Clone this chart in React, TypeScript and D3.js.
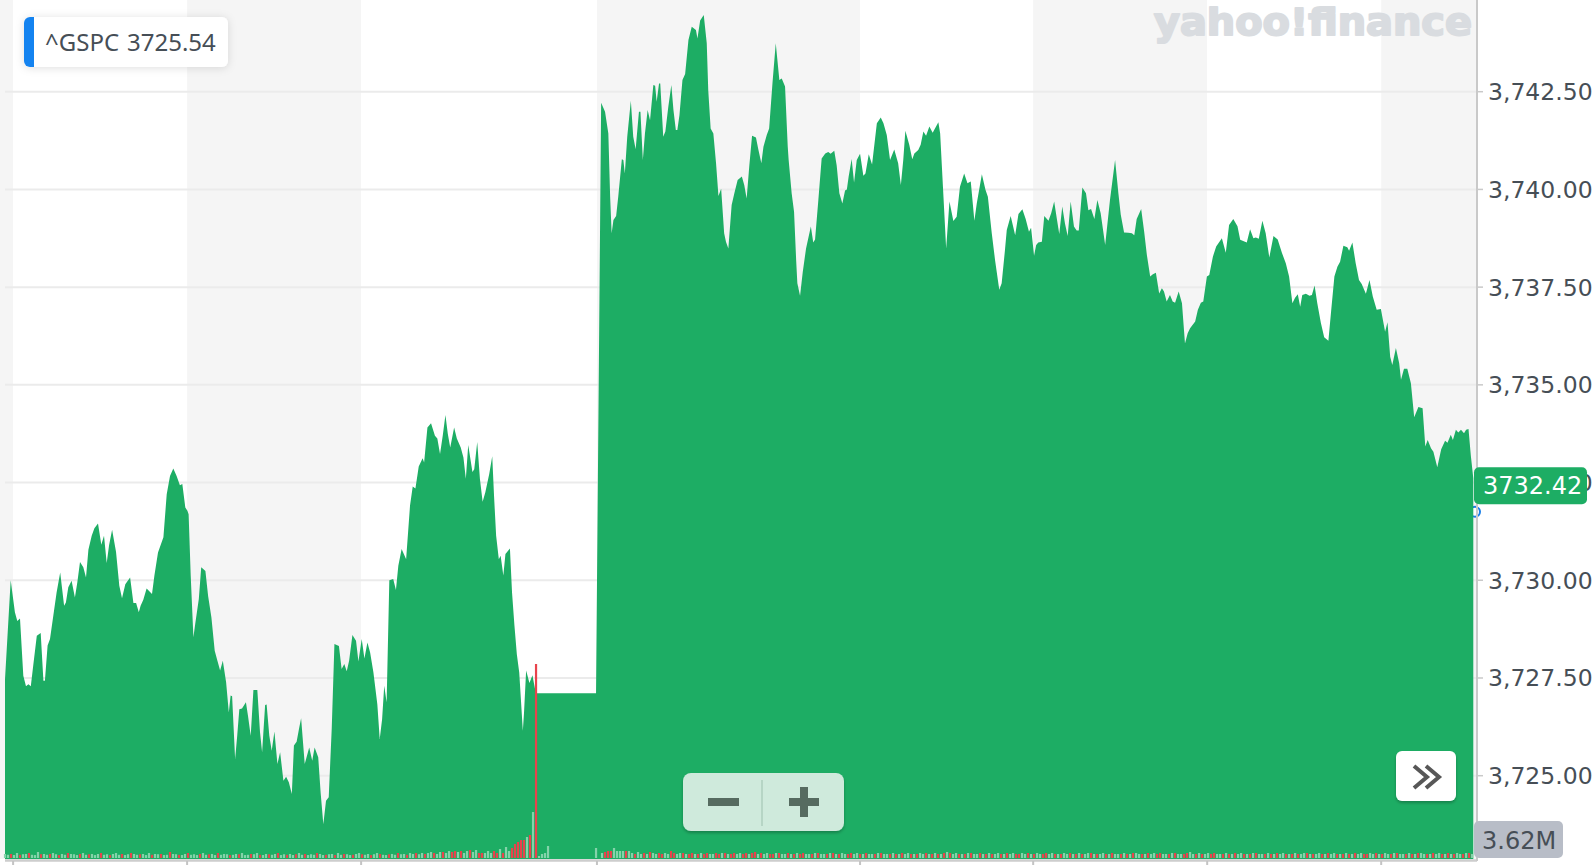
import React from 'react';
import * as d3 from 'd3';

// [time index, price]
const pricePoints: [number, number][] = [
  [0, 3727.47], [1.9, 3730.0], [3.3, 3729.18], [4.1, 3728.96], [5.0, 3729.02], [6.1, 3727.56], [7.0, 3727.29], [7.8, 3727.34],
  [8.6, 3727.29], [9.4, 3727.81], [10.6, 3728.58], [11.9, 3728.65], [12.8, 3727.43], [13.3, 3727.43], [14.2, 3728.33], [15.0, 3728.5],
  [16.1, 3729.09], [17.2, 3729.69], [18.4, 3730.2], [19.7, 3729.35], [20.3, 3729.43], [21.1, 3729.82], [22.2, 3729.99], [23.3, 3729.56],
  [24.1, 3729.94], [25.0, 3730.47], [26.1, 3730.33], [27.0, 3730.07], [27.8, 3730.78], [28.9, 3731.14], [29.8, 3731.33], [31.0, 3731.45],
  [32.1, 3730.91], [33.0, 3731.14], [33.9, 3730.44], [34.7, 3730.9], [35.7, 3731.29], [37.0, 3730.73], [38.1, 3729.86], [39.0, 3729.54],
  [40.1, 3729.9], [41.7, 3730.07], [42.8, 3729.42], [43.7, 3729.42], [44.6, 3729.18], [45.2, 3729.35], [46.1, 3729.5], [47.2, 3729.79],
  [49.0, 3729.65], [49.8, 3730.12], [51.0, 3730.71], [52.8, 3731.1], [53.9, 3732.2], [55.0, 3732.67], [56.1, 3732.86], [57.2, 3732.67],
  [58.3, 3732.43], [59.1, 3732.46], [60.1, 3731.86], [60.8, 3731.78], [61.2, 3731.69], [61.9, 3730.12], [62.8, 3728.54], [63.4, 3728.88],
  [64.6, 3729.52], [65.4, 3730.33], [66.8, 3730.24], [67.7, 3729.6], [68.8, 3729.05], [69.9, 3728.2], [70.8, 3727.94], [71.7, 3727.69],
  [72.6, 3727.94], [73.7, 3727.39], [74.6, 3726.62], [75.2, 3727.05], [75.7, 3727.03], [76.7, 3725.43], [77.4, 3726.02], [78.1, 3726.7],
  [79.0, 3726.72], [80.3, 3726.88], [81.0, 3726.53], [81.9, 3726.02], [82.8, 3727.19], [84.1, 3727.19], [85.0, 3726.11], [85.7, 3725.6],
  [86.7, 3726.81], [87.2, 3726.82], [88.1, 3726.02], [88.9, 3725.64], [89.8, 3726.13], [90.8, 3725.3], [91.7, 3725.6], [92.8, 3724.87],
  [93.7, 3724.97], [94.6, 3724.83], [95.6, 3724.53], [96.3, 3725.77], [97.2, 3725.87], [98.0, 3726.2], [98.7, 3726.47], [99.9, 3725.3],
  [101.4, 3725.72], [102.4, 3725.38], [103.2, 3725.72], [104.4, 3725.47], [105.2, 3724.57], [106.1, 3723.76], [107.0, 3724.36], [107.9, 3724.45],
  [108.9, 3726.2], [109.8, 3728.37], [111.3, 3728.32], [112.2, 3727.73], [113.1, 3727.86], [113.9, 3727.67], [114.7, 3727.94], [115.8, 3728.6],
  [117.0, 3728.45], [117.8, 3727.92], [118.9, 3728.5], [119.8, 3728.0], [120.8, 3728.41], [121.7, 3728.15], [122.8, 3727.64], [124.1, 3726.83],
  [124.9, 3725.94], [125.7, 3726.45], [126.4, 3727.3], [127.2, 3726.88], [128.1, 3730.0], [129.4, 3730.03], [130.3, 3729.75], [131.1, 3730.37],
  [132.2, 3730.8], [133.7, 3730.54], [135.0, 3731.91], [135.9, 3732.4], [136.8, 3732.35], [137.9, 3732.91], [139.2, 3733.12], [139.7, 3733.01],
  [140.8, 3733.91], [142.0, 3734.02], [143.3, 3733.7], [144.1, 3733.63], [145.0, 3733.23], [145.9, 3733.7], [146.8, 3734.23], [147.6, 3733.74],
  [148.4, 3733.4], [149.7, 3733.91], [150.6, 3733.63], [151.9, 3733.4], [152.8, 3733.14], [153.6, 3732.6], [154.4, 3733.46], [155.8, 3732.77],
  [156.4, 3732.84], [157.4, 3733.54], [158.3, 3732.59], [159.2, 3732.01], [160.1, 3732.25], [161.4, 3732.72], [162.4, 3733.17], [163.0, 3732.16],
  [163.7, 3731.14], [164.6, 3730.54], [165.2, 3730.63], [166.1, 3730.12], [166.8, 3730.67], [168.3, 3730.81], [169.0, 3729.69], [169.8, 3728.84],
  [170.6, 3728.11], [171.4, 3727.64], [172.6, 3726.15], [173.0, 3726.62], [173.7, 3727.69], [174.8, 3727.37], [175.8, 3727.57], [176.8, 3727.16],
  [177.2, 3727.11], [197.0, 3727.11], [198.7, 3742.22], [200.0, 3741.99], [201.1, 3741.43], [201.7, 3739.81], [202.2, 3738.88], [202.8, 3739.22],
  [203.7, 3739.32], [204.4, 3739.81], [205.6, 3740.77], [206.1, 3740.75], [206.6, 3740.41], [207.4, 3741.35], [208.6, 3742.27], [209.4, 3741.35],
  [210.2, 3741.03], [211.3, 3741.99], [211.8, 3741.99], [212.6, 3740.75], [213.3, 3741.43], [214.2, 3742.03], [215.0, 3741.77], [216.1, 3742.67],
  [216.7, 3742.65], [217.2, 3742.24], [218.0, 3742.71], [218.4, 3742.71], [219.4, 3741.35], [220.1, 3741.48], [221.1, 3742.12], [222.1, 3742.67],
  [222.8, 3742.03], [223.6, 3741.52], [224.1, 3741.52], [224.8, 3741.9], [225.8, 3742.8], [226.7, 3742.95], [227.8, 3743.82], [228.9, 3744.16],
  [230.3, 3744.08], [230.8, 3743.86], [231.7, 3744.32], [232.9, 3744.46], [233.9, 3743.74], [234.4, 3742.54], [235.2, 3741.56], [236.1, 3741.43],
  [237.0, 3740.67], [237.8, 3739.83], [238.7, 3740.02], [239.7, 3738.88], [240.3, 3738.66], [241.1, 3738.49], [242.2, 3739.6], [243.1, 3739.9],
  [244.2, 3740.24], [245.6, 3740.33], [246.4, 3740.11], [247.2, 3739.77], [248.1, 3740.62], [249.0, 3741.37], [250.3, 3741.33], [251.1, 3741.02],
  [252.1, 3740.67], [252.8, 3741.09], [253.9, 3741.39], [254.7, 3741.56], [255.8, 3742.71], [256.9, 3743.74], [258.1, 3742.8], [258.9, 3742.84],
  [260.0, 3742.63], [260.9, 3741.09], [261.2, 3740.75], [262.2, 3739.9], [263.0, 3739.43], [263.7, 3738.19], [264.1, 3737.6], [265.0, 3737.28],
  [265.9, 3737.89], [267.0, 3738.49], [268.6, 3739.05], [269.4, 3738.64], [270.0, 3738.72], [271.1, 3739.73], [272.2, 3740.79], [273.4, 3740.92],
  [274.4, 3740.96], [275.2, 3740.91], [276.4, 3740.99], [277.2, 3740.62], [278.1, 3739.9], [279.1, 3739.64], [280.0, 3739.97], [280.6, 3740.0],
  [281.2, 3740.33], [282.2, 3740.78], [283.0, 3740.18], [283.9, 3740.75], [285.0, 3740.91], [286.1, 3740.35], [286.8, 3740.41], [287.9, 3740.9],
  [289.0, 3740.64], [290.6, 3741.69], [291.9, 3741.84], [292.8, 3741.69], [293.9, 3741.39], [295.0, 3740.75], [296.4, 3741.02], [297.7, 3740.67],
  [298.6, 3740.11], [299.4, 3740.75], [300.1, 3741.5], [301.4, 3741.14], [302.4, 3740.77], [303.1, 3740.92], [304.4, 3741.01], [305.2, 3741.14],
  [306.1, 3741.48], [307.0, 3741.37], [308.1, 3741.61], [309.2, 3741.45], [311.1, 3741.72], [311.7, 3741.43], [312.8, 3739.81], [313.7, 3738.49],
  [314.8, 3739.69], [316.1, 3739.19], [317.2, 3739.3], [318.3, 3740.07], [319.7, 3740.41], [320.8, 3740.16], [321.9, 3740.2], [323.1, 3739.2],
  [323.9, 3739.64], [325.6, 3740.39], [326.8, 3739.99], [327.6, 3739.81], [328.9, 3738.88], [330.0, 3738.19], [331.4, 3737.43], [332.2, 3737.6],
  [333.3, 3738.45], [333.9, 3738.96], [335.2, 3739.32], [336.7, 3738.83], [337.8, 3739.37], [339.1, 3739.49], [340.2, 3739.24], [341.3, 3738.92],
  [342.0, 3739.02], [343.0, 3738.3], [343.7, 3738.58], [344.4, 3738.64], [345.6, 3738.66], [346.4, 3739.32], [347.8, 3739.2], [348.7, 3739.39],
  [349.7, 3739.69], [350.6, 3739.24], [351.4, 3738.86], [352.4, 3739.56], [353.3, 3739.13], [354.2, 3738.81], [355.2, 3739.69], [356.3, 3739.05],
  [357.2, 3738.95], [357.9, 3738.95], [359.1, 3740.05], [360.3, 3739.9], [361.1, 3739.47], [362.0, 3739.5], [363.1, 3739.24], [364.1, 3739.73],
  [365.2, 3739.39], [366.7, 3738.58], [368.3, 3739.73], [370.0, 3740.75], [371.1, 3739.9], [371.9, 3739.35], [373.0, 3738.9], [374.4, 3738.89],
  [375.6, 3738.88], [376.4, 3738.83], [377.2, 3739.24], [378.7, 3739.5], [379.7, 3738.92], [380.6, 3738.32], [381.7, 3737.77], [382.6, 3737.83],
  [383.6, 3737.87], [384.7, 3737.34], [385.6, 3737.47], [386.3, 3737.39], [387.2, 3737.13], [388.3, 3737.3], [389.2, 3737.13], [390.0, 3737.1],
  [391.2, 3737.39], [392.3, 3737.09], [393.3, 3736.06], [394.2, 3736.32], [395.0, 3736.45], [396.7, 3736.62], [397.6, 3736.92], [398.6, 3737.1],
  [399.4, 3737.13], [400.6, 3737.77], [401.4, 3737.81], [402.6, 3738.28], [403.7, 3738.54], [405.6, 3738.75], [406.9, 3738.38], [408.0, 3739.09],
  [409.4, 3739.24], [410.8, 3739.06], [411.7, 3738.71], [413.3, 3738.66], [413.9, 3738.64], [415.0, 3738.98], [416.1, 3738.75], [416.9, 3738.77],
  [417.9, 3738.74], [419.1, 3739.2], [420.2, 3738.88], [421.4, 3738.26], [422.8, 3738.81], [424.2, 3738.72], [425.6, 3738.38], [426.9, 3738.11],
  [428.0, 3737.77], [429.1, 3737.09], [430.0, 3737.23], [430.9, 3737.32], [431.7, 3737.0], [432.4, 3737.3], [433.6, 3737.33], [434.8, 3737.28],
  [435.6, 3737.3], [436.5, 3737.54], [437.4, 3737.09], [438.6, 3736.58], [439.7, 3736.22], [441.1, 3736.13], [442.1, 3736.96], [443.1, 3737.77],
  [444.1, 3738.02], [445.0, 3738.15], [446.1, 3738.56], [447.4, 3738.52], [448.0, 3738.43], [449.1, 3738.64], [450.2, 3738.11], [451.3, 3737.68],
  [452.2, 3737.58], [453.6, 3737.33], [454.8, 3737.68], [455.9, 3737.26], [457.2, 3736.92], [458.6, 3736.94], [460.0, 3736.36], [460.8, 3736.6],
  [461.7, 3735.72], [462.4, 3735.51], [463.6, 3735.94], [464.7, 3735.55], [465.3, 3735.13], [466.3, 3735.41], [467.4, 3735.41], [468.6, 3735.04],
  [469.7, 3734.17], [471.1, 3734.43], [472.5, 3734.4], [473.4, 3733.42], [474.2, 3733.59], [475.3, 3733.38], [476.1, 3733.29], [477.4, 3732.89],
  [478.7, 3733.35], [480.0, 3733.57], [480.8, 3733.52], [481.9, 3733.72], [482.6, 3733.59], [483.6, 3733.85], [484.4, 3733.78], [485.3, 3733.85],
  [486.3, 3733.76], [487.0, 3733.85], [487.8, 3733.87], [488.6, 3733.17], [489.4, 3732.61],
];

const timeDomain: [number, number] = [0, 490.3];
const sessionBreaks = [2.7, 60.7, 118.7, 197.3, 285, 342.7, 400.7, 458.7];
const yTicks = [3725, 3727.5, 3730, 3732.5, 3735, 3737.5, 3740, 3742.5];

// Volume per time index (thousands); negative = down bar.
const volumeMorning = [
  75, 60, -75, 55, 93, -60, 70, 75, -93, 60, 55, 112, -70, 75, 60, -75, 93, 70, -55, 75,
  60, -93, 75, 70, 55, -75, 93, 60, -70, 75, 55, 75, -93, 60, 70, -55, 75, 93, 60, -75,
  55, 70, -93, 75, 60, -70, 75, 55, 93, -60, 75, 70, -75, 55, 60, -112, 75, 70, -60, 55,
  75, -93, 60, 70, 55, -75, 93, 60, -70, 75, 55, -93, 60, 75, 70, -55, 60, 75, -70, 93,
  55, 60, -75, 70, 93, -60, 55, 75, -70, 60, 75, -93, 55, 70, -60, 75, 55, -70, 93, 60,
  -75, 55, 70, 60, -93, 75, 55, -60, 70, 75, -55, 93, 60, -75, 70, 55, -60, 75, 93, -70,
  60, 75, -55, 70, 93, -75, 60, 55, -70, 75, 60, -93, 70, 75, -60, 93, 75, -93, 70, 93,
  -75, 93, 112, -93, 75, 112, -112, 93, 130, -112, -130, 112, -130, 93, 130, -149, 112, 149,
];
const volumeClose = [
  -93, -93, 93, 131, 93, -131, -93, 168, -93, 205, 131, -187, -261, -299, -336, -336, 392, -429, 858, -3620,
  37, 75, 93, 224,
];
const volumeGap = [0, 0, 0, 0, 0, 0, 0, 0, 0, 0, 0, 0, 0, 0, 0];
const volumeAfternoon = [
  187, 0, 93, -112, -131, -131, 187, 131, 131, 131, -131, 131,
  93, -75, 112, 75, -93, 75, -112, 93, 75, -93, -75, 93, 75, -130, -93, 75, 93, -93, 75, -75,
  -93, 75, -75, 93, -75, -93, 75, 75, -93, -75, 93, -93, 75, -75, -93, 75, 93, -75, -93, 75,
  -93, -112, 75, -93, 75, 93, -75, -75, 93, -93, 75, 75, -93, 75, -75, 93, -75, -93, 75, 75,
  -75, 93, -93, 75, 75, -75, 93, -93, 75, -75, 93, 75, -75, -93, 75, 93, -75, 75, -93, 75,
  75, -75, 93, -93, 75, 75, -75, 93, -75, 75, -93, 75, 93, -75, 75, -75, 93, 75, -93, 75,
  -75, 93, -75, 75, -93, 112, -93, 75, 93, -75, 75, -75, 93, -93, 75, 75, -93, 75, -75, 93,
  -75, 75, 93, -75, 75, -93, 75, 93, -75, -75, 93, 75, -93, 75, -75, 93, 75, -75, -93, 75,
  93, -75, 75, -75, 93, 75, -93, 75, -75, 93, -75, 75, 93, -93, 75, -75, 75, 93, -75, 75,
  -93, 75, 75, -75, 93, -75, 75, -93, 93, 75, -75, 75, -93, 75, 93, -75, -93, 75, 75, -75,
  93, -93, 75, 75, -75, -93, 112, 75, -75, 93, -75, 75, 93, -75, -93, 75, 75, -75, 93, -75,
  75, -93, 75, 93, -75, 75, -75, 93, -93, 75, 75, -75, 93, -75, 75, -93, 75, 93, -75, 75,
  -75, 93, -75, 75, 93, -93, 75, -75, 75, 93, -75, 75, -93, 75, 93, -75, 75, -75, 93, -75,
  75, -93, 75, 93, -75, -75, 93, 75, -93, 75, -75, 93, 75, -75, 93, -93, 75, 75, -75, 93,
  -75, 75, -93, 93, 75, -75, 75, -93, 75, 93, -75, 75, -93, 75, -75, 93, 75, -75, 93, -93, 75,
];
const volumes = [...volumeMorning, ...volumeClose, ...volumeGap, ...volumeAfternoon];
const volumeMax = 3620;

const symbol = '^GSPC';
const legendPrice = '3725.54';
const lastPrice = 3732.42;
const markerPrice = 3731.75;
const volumeLabel = '3.62M';
const logoText = 'yahoo!finance';

const GREEN = '#1dad64';
const TEXT = '#464e56';

export default function App() {
  const W = 1596;
  const H = 865;
  const left = 5;
  const right = 1476;
  const bottom = 859;

  const x = d3.scaleLinear().domain(timeDomain).range([left, right]);
  const y = d3.scaleLinear().domain([3725, 3742.5]).range([775.7, 91.7]);
  const vol = d3.scaleLinear().domain([0, volumeMax]).range([0, 194]);
  const area = d3
    .area<[number, number]>()
    .x((d) => x(d[0]))
    .y0(bottom)
    .y1((d) => y(d[1]))
    .curve(d3.curveLinear);
  const edges = [timeDomain[0], ...sessionBreaks, timeDomain[1]];
  const fmt = d3.format(',.2f');

  return (
    <svg
      width={W}
      height={H}
      style={{ position: 'absolute', left: 0, top: 0, display: 'block', background: '#fff' }}
    >
      <defs>
        <filter id="shadow" x="-20%" y="-40%" width="140%" height="190%">
          <feDropShadow dx="0" dy="1" stdDeviation="4" floodColor="#000" floodOpacity="0.13" />
        </filter>
        <filter id="shadow2" x="-20%" y="-30%" width="140%" height="170%">
          <feDropShadow dx="0" dy="2" stdDeviation="1.5" floodColor="#000" floodOpacity="0.25" />
        </filter>
        <clipPath id="legendClip">
          <rect x={24} y={17} width={204} height={50} rx={6} />
        </clipPath>
      </defs>

      {/* session bands */}
      {edges.slice(0, -1).map((e, i) => (
        <rect
          key={'b' + i}
          x={i === 0 ? 0 : x(e)}
          y={0}
          width={x(edges[i + 1]) - (i === 0 ? 0 : x(e))}
          height={bottom}
          fill={i % 2 === 0 ? '#f5f5f5' : '#ffffff'}
        />
      ))}

      {/* logo */}
      <text
        x={1154}
        y={35}
        fontFamily="DejaVu Sans"
        fontWeight="bold"
        fontSize={38}
        fill="#d9dce0"
        stroke="#d9dce0"
        strokeWidth={2}
        strokeLinejoin="round"
        textLength={318}
        lengthAdjust="spacingAndGlyphs"
      >
        {logoText}
      </text>

      {/* grid */}
      {yTicks.map((t) => (
        <line key={'g' + t} x1={left} x2={right} y1={y(t)} y2={y(t)} stroke="#ebebeb" strokeWidth={2} />
      ))}

      {/* last price marker */}
      <circle cx={right - 1} cy={y(markerPrice)} r={5} fill="#fff" stroke="#1a7fe8" strokeWidth={2} />

      {/* area */}
      <path d={area(pricePoints) || ''} fill={GREEN} />

      {/* volume */}
      {volumes.map((v, t) => {
        if (!v) return null;
        const h = vol(Math.abs(v));
        return (
          <rect
            key={'v' + t}
            x={x(t) - 1.1}
            y={bottom - 1 - h}
            width={2.2}
            height={h}
            fill={v < 0 ? '#e8434c' : '#84d3aa'}
          />
        );
      })}

      {/* x axis */}
      <line x1={left} x2={right + 1} y1={860.5} y2={860.5} stroke="#cdcdcd" strokeWidth={2.5} />
      {sessionBreaks.map((b) => (
        <line key={'xt' + b} x1={x(b)} x2={x(b)} y1={861} y2={865} stroke="#c4c4c4" strokeWidth={2} />
      ))}

      {/* y axis */}
      <line x1={right + 1} x2={right + 1} y1={0} y2={861} stroke="#c9c9c9" strokeWidth={2} />
      {yTicks.map((t) => (
        <g key={'yt' + t}>
          <line x1={right + 2} x2={right + 7} y1={y(t)} y2={y(t)} stroke="#c9c9c9" strokeWidth={1.5} />
          <text x={1488} y={y(t)} dy="0.36em" fontFamily="DejaVu Sans" fontSize={23.5} fill={TEXT}>
            {fmt(t)}
          </text>
        </g>
      ))}

      {/* last price label */}
      <rect x={1474} y={y(lastPrice) - 18.5} width={113} height={37} rx={5} fill={GREEN} />
      <text x={1483} y={y(lastPrice)} dy="0.36em" fontFamily="DejaVu Sans" fontSize={24} fill="#fff">
        {lastPrice.toFixed(2)}
      </text>

      {/* volume label */}
      <rect x={1474} y={821} width={89} height={37} rx={5} fill="#b8bdc7" />
      <text x={1482} y={840} dy="0.36em" fontFamily="DejaVu Sans" fontSize={24} fill={TEXT}>
        {volumeLabel}
      </text>

      {/* legend */}
      <g filter="url(#shadow)">
        <rect x={24} y={17} width={204} height={50} rx={6} fill="#fff" />
      </g>
      <rect x={24} y={17} width={10} height={50} fill="#1483f0" clipPath="url(#legendClip)" />
      <text x={45} y={51} fontFamily="Noto Sans" fontSize={24} fill={TEXT}>
        {symbol}
      </text>
      <text x={127} y={51} fontFamily="Noto Sans" fontSize={24} fill={TEXT}>
        {legendPrice}
      </text>

      {/* zoom control */}
      <g filter="url(#shadow2)">
        <rect x={683} y={773} width={161} height={58} rx={8} fill="#cfeadc" />
      </g>
      <line x1={762} x2={762} y1={780} y2={826} stroke="#b6d5c5" strokeWidth={2} />
      <rect x={708} y={798} width={31} height={8} fill="#566b60" />
      <rect x={789} y={798} width={30} height={8} fill="#566b60" />
      <rect x={800} y={787} width={8} height={30} fill="#566b60" />

      {/* scroll button */}
      <g filter="url(#shadow2)">
        <rect x={1396} y={751} width={60} height={50} rx={6} fill="#fff" />
      </g>
      <polyline points="1414,766 1427,777 1414,788" fill="none" stroke="#575757" strokeWidth={4} />
      <polyline points="1426,766 1439,777 1426,788" fill="none" stroke="#575757" strokeWidth={4} />
    </svg>
  );
}
